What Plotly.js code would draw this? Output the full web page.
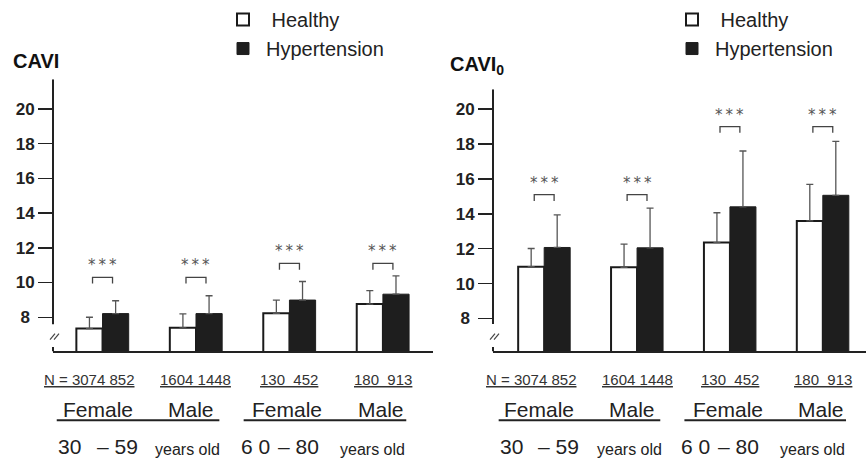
<!DOCTYPE html>
<html><head><meta charset="utf-8">
<script src="https://cdn.plot.ly/plotly-3.0.1.min.js"></script>
<style>html,body{margin:0;padding:0;background:#fff}#chart{width:866px;height:458px}</style>
</head><body><div id="chart"></div>
<script>
// ---- data ----
const groups = ['Female 30–59', 'Male 30–59', 'Female 60–80', 'Male 60–80'];
const seriesNames = ['\u00a0Healthy', 'Hypertension'];
const caviHealthy   = [7.35, 7.39, 8.23, 8.76];
const caviHealthySD = [0.65, 0.80, 0.76, 0.78];
const caviHT        = [8.21, 8.21, 8.99, 9.33];
const caviHTSD      = [0.74, 1.03, 1.07, 1.05];
const cavi0Healthy   = [10.97, 10.93, 12.35, 13.59];
const cavi0HealthySD = [1.04, 1.33, 1.71, 2.10];
const cavi0HT        = [12.07, 12.05, 14.40, 15.06];
const cavi0HTSD      = [1.87, 2.27, 3.20, 3.09];
const sigCavi  = [10.3, 10.3, 11.1, 11.1];
const sigCavi0 = [15.1, 15.1, 19.0, 19.0];
const sigText = '***';
const nLabels = ['N = 3074 852', '1604 1448', '130  452', '180  913'];
const sexLabels = ['Female', 'Male', 'Female', 'Male'];
const ageLabels = ['30', '– 59', 'years old', '6 0', '– 80', 'years old'];
const yTickVals = [8, 10, 12, 14, 16, 18, 20];
const yTickText = ['8\u00a0', '10', '12', '14', '16', '18', '20'];
const titles = ['CAVI', 'CAVI<sub>0</sub>'];

// ---- helpers ----
const W = 866, H = 458;
const px = v => v / W, py = v => 1 - v / H;
const INK = '#222';
const FONT = 'Liberation Sans, Arial, sans-serif';

const panels = [
  {xa: 'x', ya: 'y', leg: 'legend', h: caviHealthy, hs: caviHealthySD, t: caviHT, ts: caviHTSD, sig: sigCavi,
   xdom: [px(53), px(433)], xr: [-0.53, 3.536], ydom: [py(350.5), py(76)], yr: [6.03, 21.71], brk: [7.6, 6.28],
   title: titles[0], tx: 11, ty: 58, lx: 220},
  {xa: 'x2', ya: 'y2', leg: 'legend2', h: cavi0Healthy, hs: cavi0HealthySD, t: cavi0HT, ts: cavi0HTSD, sig: sigCavi0,
   xdom: [px(493), 1], xr: [-0.551, 3.465], ydom: [py(350.5), py(86)], yr: [6.11, 21.14], brk: [7.68, 6.36],
   title: titles[1], tx: 448, ty: 62, lx: 669}
];

const data = [];
const shapes = [];
const annotations = [];

panels.forEach((p, k) => {
  data.push({
    type: 'bar', name: seriesNames[0], x: groups, y: p.h, xaxis: p.xa, yaxis: p.ya, legend: p.leg,
    marker: {color: '#ffffff', line: {color: '#1a1a1a', width: 2}},
    error_y: {type: 'data', symmetric: false, array: p.hs, arrayminus: p.hs.map(() => 0), color: '#555', thickness: 1.3, width: 3.5},
    hoverinfo: 'skip'
  });
  data.push({
    type: 'bar', name: seriesNames[1], x: groups, y: p.t, xaxis: p.xa, yaxis: p.ya, legend: p.leg,
    marker: {color: '#1e1e1e', line: {color: '#1e1e1e', width: 1}},
    error_y: {type: 'data', symmetric: false, array: p.ts, arrayminus: p.ts.map(() => 0), color: '#555', thickness: 1.3, width: 3.5},
    hoverinfo: 'skip'
  });

  // y axis line with break
  shapes.push({type: 'line', xref: p.xa + ' domain', yref: p.ya, x0: 0, x1: 0, y0: p.brk[0], y1: p.yr[1], line: {color: INK, width: 2}});
  shapes.push({type: 'line', xref: p.xa + ' domain', yref: p.ya, x0: 0, x1: 0, y0: p.yr[0], y1: p.brk[1], line: {color: INK, width: 2}});
  // break marks "//"
  const bx = p.xdom[0] * W, by = (1 - p.ydom[0]) * H - 15;
  [[-3, 2], [1, 6]].forEach(d => {
    shapes.push({type: 'line', xref: 'paper', yref: 'paper', x0: px(bx + d[0]), x1: px(bx + d[1]), y0: py(by + 3), y1: py(by - 3), line: {color: '#444', width: 1.2}});
  });

  // significance brackets and stars
  p.sig.forEach((lvl, i) => {
    const dx = 0.107, leg = 0.36;
    shapes.push({type: 'path', xref: p.xa, yref: p.ya,
      path: `M ${i - dx},${lvl - leg} L ${i - dx},${lvl} L ${i + dx},${lvl} L ${i + dx},${lvl - leg}`,
      line: {color: '#444', width: 1.3}});
    annotations.push({xref: p.xa, yref: p.ya, x: i, y: lvl, yanchor: 'middle', yshift: 12, showarrow: false,
      text: sigText.split('').join('\u2009'), font: {family: 'DejaVu Sans, sans-serif', size: 15, color: '#555'}});
  });

  // N labels
  nLabels.forEach((s, i) => {
    annotations.push({xref: p.xa, yref: 'paper', x: i, y: py(379), xshift: i === 0 ? -13 : 0, yanchor: 'middle', showarrow: false,
      text: '<u>' + s + '</u>', font: {family: FONT, size: 15, color: '#333'}});
  });
  // sex labels
  const sexShift = [-5, -5, -2, -2];
  sexLabels.forEach((s, i) => {
    annotations.push({xref: p.xa, yref: 'paper', x: i, y: py(409), xshift: sexShift[i], yanchor: 'middle', showarrow: false,
      text: s, font: {family: FONT, size: 21, color: INK}});
  });
  // lines under sex labels
  [0, 2].forEach(g => {
    shapes.push({type: 'line', xref: p.xa, yref: 'paper', x0: g - 0.49, x1: g + 1.25, y0: py(420), y1: py(420), line: {color: INK, width: 2}});
  });
  // age labels
  const agePos = [[0, -33], [0, 14.5], [1, -8], [2, -34], [2, 9], [3, -10]];
  ageLabels.forEach((s, i) => {
    const small = s.indexOf('years') >= 0;
    annotations.push({xref: p.xa, yref: 'paper', x: agePos[i][0], y: py(small ? 449 : 446), xshift: agePos[i][1], yanchor: 'middle', showarrow: false,
      text: s, font: {family: FONT, size: small ? 16 : 21, color: INK}});
  });
  // panel title
  annotations.push({xref: 'paper', yref: 'paper', x: px(p.tx), y: py(p.ty), xanchor: 'left', yanchor: 'middle', showarrow: false,
    text: p.title, font: {family: FONT, size: 20, color: '#111', weight: 'bold'}});
});

const xaxisBase = {type: 'category', showline: true, linecolor: INK, linewidth: 2, ticks: '', showticklabels: false, showgrid: false, zeroline: false, fixedrange: true};
const yaxisBase = {showline: false, ticks: 'outside', ticklen: 14, tickwidth: 1.5, tickcolor: INK,
  tickvals: yTickVals, ticktext: yTickText, tickfont: {family: FONT, size: 17, color: INK, weight: 'bold'},
  showgrid: false, zeroline: false, fixedrange: true};
const legBase = {xanchor: 'left', yanchor: 'top', bgcolor: 'rgba(0,0,0,0)', font: {family: FONT, size: 20, color: INK}, traceorder: 'normal', itemwidth: 36};

const layout = {
  width: W, height: H, margin: {l: 0, r: 0, t: 0, b: 0},
  paper_bgcolor: '#fff', plot_bgcolor: 'rgba(0,0,0,0)',
  barmode: 'group', bargap: 0.44, bargroupgap: 0,
  showlegend: true,
  xaxis: Object.assign({}, xaxisBase, {domain: panels[0].xdom, range: panels[0].xr, anchor: 'y'}),
  yaxis: Object.assign({}, yaxisBase, {domain: panels[0].ydom, range: panels[0].yr, anchor: 'x'}),
  xaxis2: Object.assign({}, xaxisBase, {domain: panels[1].xdom, range: panels[1].xr, anchor: 'y2'}),
  yaxis2: Object.assign({}, yaxisBase, {domain: panels[1].ydom, range: panels[1].yr, anchor: 'x2'}),
  legend: Object.assign({}, legBase, {x: px(panels[0].lx), y: py(-4)}),
  legend2: Object.assign({}, legBase, {x: px(panels[1].lx), y: py(-4)}),
  shapes: shapes, annotations: annotations
};

Plotly.newPlot('chart', data, layout, {staticPlot: true, displayModeBar: false});
</script></body></html>
